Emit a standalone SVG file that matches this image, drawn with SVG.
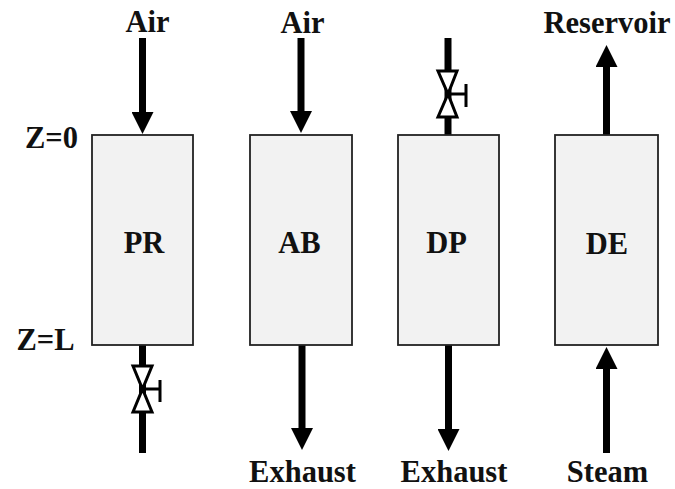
<svg xmlns="http://www.w3.org/2000/svg" width="675" height="489" viewBox="0 0 675 489">
<defs>
<style>
text{font-family:"Liberation Serif",serif;font-weight:bold;font-size:30.500px;fill:#111;text-anchor:middle}
.box{fill:#f2f2f2;stroke:#222;stroke-width:1.800}
.line{stroke:#000;stroke-width:7;fill:none}
.valve{fill:#fff;stroke:#000;stroke-width:3}
.stem{stroke:#000;stroke-width:3;fill:none}
</style>
<marker id="a" markerUnits="userSpaceOnUse" markerWidth="24" markerHeight="22" refX="2" refY="11" orient="auto"><path d="M0 0L22 11L0 22z" fill="#000"/></marker>
</defs>
<rect width="675" height="489" fill="#fff"/>
<g id="connectors">
<line class="line" x1="142.500" y1="38" x2="142.500" y2="114" marker-end="url(#a)"/>
<line class="line" x1="301" y1="38" x2="301" y2="113" marker-end="url(#a)"/>
<line class="line" x1="448" y1="38" x2="448" y2="137"/>
<line class="line" x1="606.500" y1="136" x2="606.500" y2="65" marker-end="url(#a)"/>
<line class="line" x1="142.500" y1="342" x2="142.500" y2="453"/>
<line class="line" x1="302" y1="343" x2="302" y2="430" marker-end="url(#a)"/>
<line class="line" x1="448.500" y1="343" x2="448.500" y2="431" marker-end="url(#a)"/>
<line class="line" x1="606.500" y1="453" x2="606.500" y2="367" marker-end="url(#a)"/>
</g>
<g id="valve-top"><path class="valve" d="M438 71H457L448 94ZM438 117H457L448 94Z"/><path class="stem" d="M448 94H466M466 84V107"/></g>
<g id="valve-bottom"><path class="valve" d="M133 366H152L142.500 389ZM133 412H152L142.500 389Z"/><path class="stem" d="M142.500 389H160M160 380V402"/></g>
<g id="PR"><rect class="box" x="92" y="135" width="101" height="210"/><text x="144" y="253">PR</text></g>
<g id="AB"><rect class="box" x="250" y="135" width="102" height="210"/><text x="299.500" y="253">AB</text></g>
<g id="DP"><rect class="box" x="398" y="135" width="101" height="210"/><text x="446.500" y="253">DP</text></g>
<g id="DE"><rect class="box" x="555" y="135" width="103" height="210"/><text x="607" y="254">DE</text></g>
<g id="labels">
<text x="147.500" y="32">Air</text><text x="302.500" y="32.500">Air</text><text x="607" y="33">Reservoir</text>
<text x="51.500" y="148">Z=0</text><text x="45.500" y="350">Z=L</text>
<text x="302.500" y="482.300">Exhaust</text><text x="454" y="482.300">Exhaust</text><text x="607.500" y="482.300">Steam</text>
</g>
</svg>
